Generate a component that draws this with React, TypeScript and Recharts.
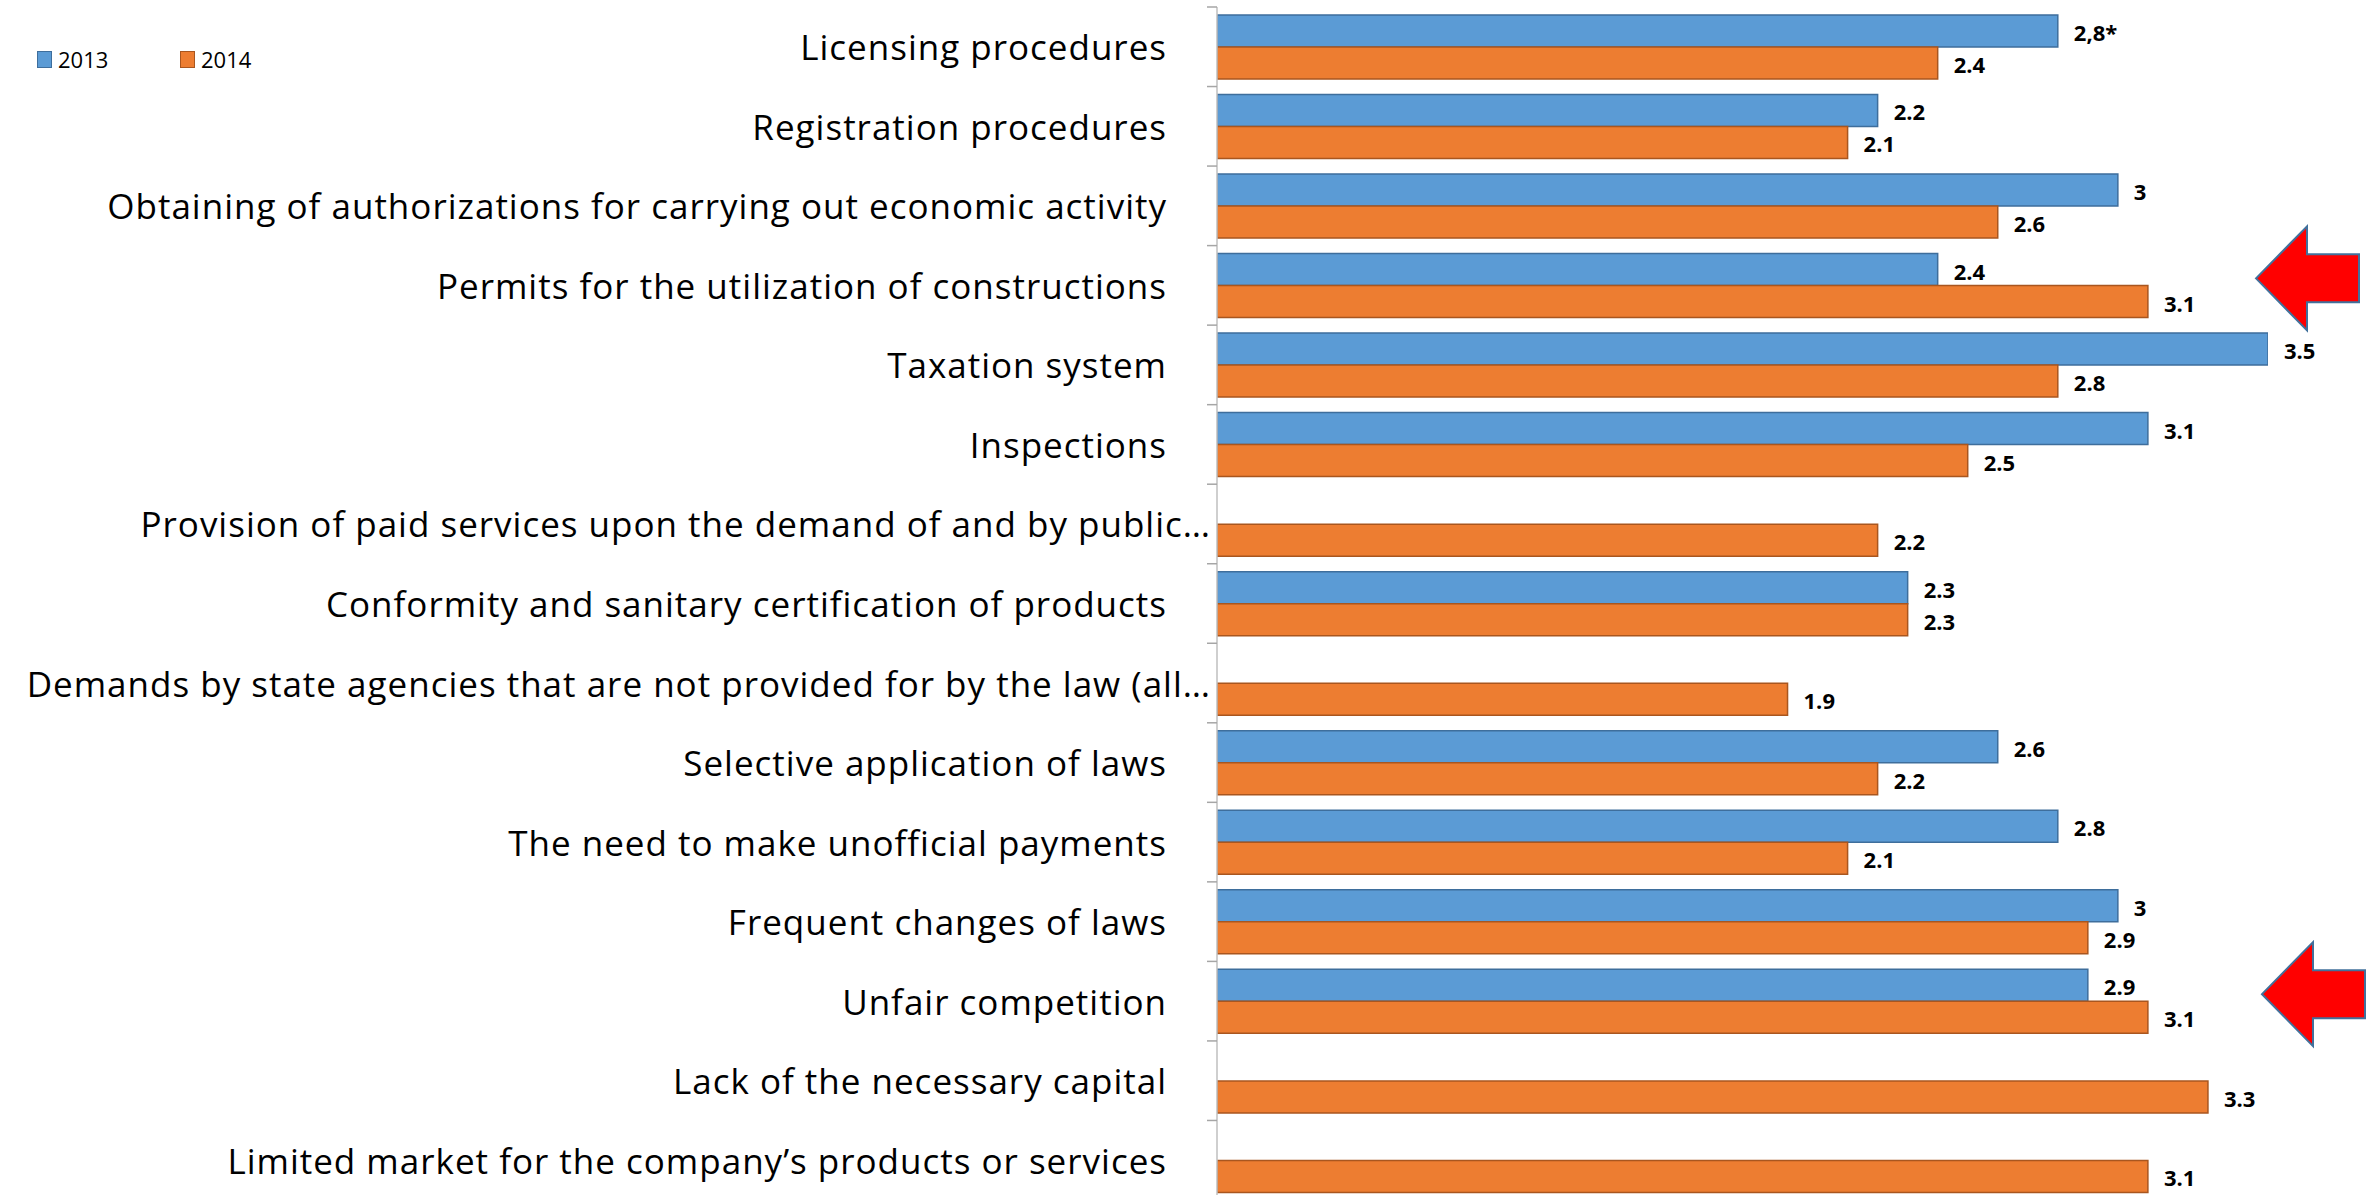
import { BarChart, Bar, XAxis, YAxis, Legend, LabelList, ReferenceDot } from 'recharts';

const categories = [
  'Licensing procedures',
  'Registration procedures',
  'Obtaining of authorizations for carrying out economic activity',
  'Permits for the utilization of constructions',
  'Taxation system',
  'Inspections',
  'Provision of paid services upon the demand of and by public…',
  'Conformity and sanitary certification of products',
  'Demands by state agencies that are not provided for by the law (all…',
  'Selective application of laws',
  'The need to make unofficial payments',
  'Frequent changes of laws',
  'Unfair competition',
  'Lack of the necessary capital',
  'Limited market for the company’s products or services',
];

const values2013 = [2.8, 2.2, 3, 2.4, 3.5, 3.1, null, 2.3, null, 2.6, 2.8, 3, 2.9, null, null];
const values2014 = [2.4, 2.1, 2.6, 3.1, 2.8, 2.5, 2.2, 2.3, 1.9, 2.2, 2.1, 2.9, 3.1, 3.3, 3.1];

// the first 2013 value carries a footnote mark in the original
const labelText2013: Record<number, string> = { 0: '2,8*' };

const highlighted = ['Permits for the utilization of constructions', 'Unfair competition'];

const data = categories.map((name, i) => ({
  name,
  y2013: values2013[i],
  y2014: values2014[i],
}));

const series = [
  { key: 'y2013', name: '2013', fill: '#5B9BD5', stroke: '#3E6E9C' },
  { key: 'y2014', name: '2014', fill: '#ED7D31', stroke: '#A9561F' },
];

const WIDTH = 2369;
const HEIGHT = 1200;
const TOP = 7;
const AXIS_X = 1217;
const RIGHT = WIDTH - 2268;
const BAND = (HEIGHT - TOP) / categories.length;
const FONT = '"Open Sans", sans-serif';

function CategoryTick(props: any) {
  const { y, payload, index } = props;
  const text: string = payload.value;
  const truncated = text.endsWith('…');
  const top = y - BAND / 2;
  return (
    <g>
      <line x1={AXIS_X - 10} x2={AXIS_X} y1={top} y2={top} stroke="#A6A6A6" strokeWidth={1.5} />
      {index === categories.length - 1 && (
        <line x1={AXIS_X - 10} x2={AXIS_X} y1={top + BAND} y2={top + BAND} stroke="#A6A6A6" strokeWidth={1.5} />
      )}
      <text
        x={truncated ? AXIS_X - 6 : AXIS_X - 50}
        y={y}
        textAnchor="end"
        dominantBaseline="central"
        fontFamily={FONT}
        fontSize={35}
        letterSpacing={1}
        fill="#000"
      >
        {text}
      </text>
    </g>
  );
}

function makeLabel(overrides: Record<number, string>) {
  return (props: any) => {
    const { x, y, width, height, value, index } = props;
    if (value == null) return null;
    const txt = overrides[index] ?? String(value);
    return (
      <text
        x={x + width + 16}
        y={y + height / 2 + 1}
        dominantBaseline="central"
        fontFamily={FONT}
        fontWeight={700}
        fontSize={22}
        fill="#000"
      >
        {txt}
      </text>
    );
  };
}

function LegendContent(props: any) {
  const { payload } = props;
  return (
    <div style={{ display: 'flex', fontFamily: FONT, fontSize: 22 }}>
      {payload.map((entry: any) => {
        const s = series.find((d) => d.name === entry.value);
        return (
          <div key={entry.value} style={{ display: 'flex', alignItems: 'center', width: 143 }}>
            <div
              style={{
                width: 13,
                height: 15,
                background: s?.fill,
                border: `1.5px solid ${s?.stroke}`,
                marginRight: 6,
              }}
            />
            <span>{entry.value}</span>
          </div>
        );
      })}
    </div>
  );
}

function Arrow(props: any) {
  const { cx, cy, shift } = props;
  const tip = cx - 12 + shift;
  const base = tip + 51;
  const end = tip + 103;
  const y = cy - 7;
  const pts = [
    [tip, y],
    [base, y - 52],
    [base, y - 24],
    [end, y - 24],
    [end, y + 24],
    [base, y + 24],
    [base, y + 52],
  ]
    .map((p) => p.join(','))
    .join(' ');
  return <polygon points={pts} fill="#FF0000" stroke="#41719C" strokeWidth={2} />;
}

export default function App() {
  return (
    <div
      style={{
        position: 'absolute',
        left: 0,
        top: 0,
        width: WIDTH,
        height: 1195,
        overflow: 'hidden',
        background: '#fff',
      }}
    >
      <BarChart
        width={WIDTH}
        height={HEIGHT}
        data={data}
        layout="vertical"
        margin={{ top: TOP, right: RIGHT, bottom: 0, left: 0 }}
        barCategoryGap="10%"
        barGap={0}
      >
        <XAxis type="number" domain={[0, 3.5]} hide allowDataOverflow />
        <YAxis
          type="category"
          dataKey="name"
          width={AXIS_X}
          interval={0}
          axisLine={{ stroke: '#BFBFBF', strokeWidth: 1.5 }}
          tickLine={false}
          tick={<CategoryTick />}
        />
        <Legend
          layout="horizontal"
          verticalAlign="middle"
          align="center"
          content={<LegendContent />}
          wrapperStyle={{ position: 'absolute', left: 37, top: 44, width: 300 }}
        />
        {series.map((s) => (
          <Bar
            key={s.key}
            dataKey={s.key}
            name={s.name}
            fill={s.fill}
            stroke={s.stroke}
            strokeWidth={1.5}
            isAnimationActive={false}
          >
            <LabelList
              dataKey={s.key}
              content={makeLabel(s.key === 'y2013' ? labelText2013 : {})}
            />
          </Bar>
        ))}
        {highlighted.map((cat, i) => (
          <ReferenceDot
            key={cat}
            x={3.5}
            y={cat}
            ifOverflow="visible"
            shape={(p: any) => <Arrow {...p} shift={i === 0 ? 0 : 6} />}
          />
        ))}
      </BarChart>
    </div>
  );
}
